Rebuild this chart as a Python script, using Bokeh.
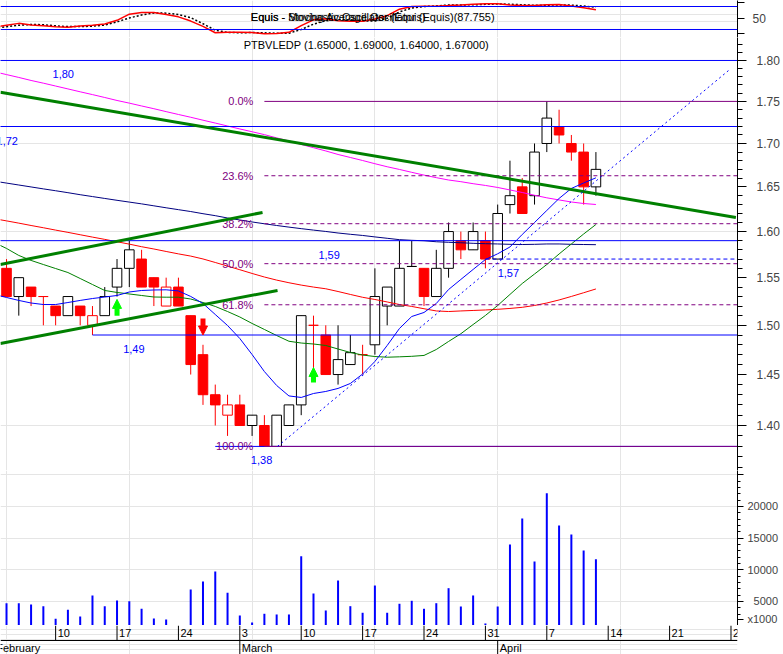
from bokeh.plotting import figure
from bokeh.layouts import column
from bokeh.models import (Range1d, FixedTicker, LinearAxis, LogAxis, LogScale, CustomJSTickFormatter,
                          Arrow, NormalHead, Span)
from bokeh.core.properties import value
from bokeh.embed import file_html
from bokeh.resources import INLINE

# ---------------- data ----------------
bar_idx = list(range(49))
opens = [1.56, 1.53, 1.54, 1.53, 1.52, 1.51, 1.52, 1.50, 1.51, 1.54,
         1.56, 1.57, 1.55, 1.52, 1.54, 1.51, 1.47, 1.43, 1.41, 1.42,
         1.40, 1.40, 1.38, 1.40, 1.42, 1.50, 1.49, 1.45, 1.46, 1.47,
         1.48, 1.52, 1.52, 1.562, 1.56, 1.53, 1.56, 1.59, 1.58, 1.59,
         1.57, 1.63, 1.65, 1.64, 1.70, 1.72, 1.70, 1.69, 1.65]
highs = [1.57, 1.55, 1.54, 1.53, 1.52, 1.53, 1.52, 1.52, 1.54, 1.57,
         1.59, 1.58, 1.55, 1.55, 1.55, 1.51, 1.48, 1.44, 1.43, 1.43,
         1.41, 1.41, 1.41, 1.42, 1.51, 1.51, 1.50, 1.50, 1.49, 1.48,
         1.56, 1.54, 1.59, 1.59, 1.56, 1.58, 1.61, 1.60, 1.61, 1.60,
         1.63, 1.68, 1.66, 1.70, 1.75, 1.74, 1.71, 1.70, 1.69]
lows = [1.53, 1.51, 1.52, 1.50, 1.50, 1.51, 1.50, 1.49, 1.51, 1.53,
        1.54, 1.54, 1.52, 1.52, 1.52, 1.45, 1.42, 1.40, 1.39, 1.40,
        1.39, 1.38, 1.38, 1.40, 1.41, 1.45, 1.45, 1.44, 1.46, 1.45,
        1.47, 1.50, 1.52, 1.562, 1.52, 1.53, 1.55, 1.57, 1.58, 1.56,
        1.57, 1.62, 1.62, 1.63, 1.69, 1.70, 1.68, 1.63, 1.64]
closes = [1.53, 1.55, 1.53, 1.53, 1.51, 1.53, 1.51, 1.51, 1.53, 1.56,
          1.58, 1.54, 1.54, 1.54, 1.52, 1.46, 1.43, 1.42, 1.42, 1.40,
          1.41, 1.38, 1.41, 1.42, 1.51, 1.50, 1.45, 1.465, 1.472, 1.47,
          1.53, 1.54, 1.56, 1.562, 1.53, 1.56, 1.60, 1.58, 1.60, 1.57,
          1.62, 1.64, 1.62, 1.69, 1.73, 1.71, 1.69, 1.65, 1.67]
volume = [4730, 4730, 4530, 4260, 2270, 3690, 2630, 5950, 4260, 5160,
          5050, 3850, 2320, 2160, 0, 6890, 8150, 9730, 6370, 2790,
          1690, 3060, 2950, 2950, 12140, 6260, 3580, 8310, 4260, 3220,
          7520, 3220, 4640, 5110, 3850, 4730, 7100, 4210, 5950, 1530,
          4210, 14000, 18090, 11310, 22080, 16990, 15570, 13040, 11670]

ma_idx = list(range(-1, 49))
ma_magenta = [1.7861, 1.7826, 1.7791, 1.7754, 1.7721, 1.7686, 1.7651, 1.7616, 1.7582, 1.7547,
              1.7511, 1.7479, 1.7445, 1.7412, 1.7377, 1.7343, 1.7310, 1.7275, 1.7241, 1.7206,
              1.7171, 1.7138, 1.7104, 1.7066, 1.7030, 1.6989, 1.6951, 1.6913, 1.6872, 1.6837,
              1.6802, 1.6765, 1.6730, 1.6699, 1.6666, 1.6634, 1.6605, 1.6578, 1.6559, 1.6536,
              1.6516, 1.6493, 1.6465, 1.6436, 1.6405, 1.6376, 1.6352, 1.6329, 1.6312, 1.6301]
ma_navy = [1.6565, 1.6543, 1.6521, 1.6499, 1.6477, 1.6456, 1.6434, 1.6411, 1.6390, 1.6369,
           1.6348, 1.6328, 1.6308, 1.6286, 1.6264, 1.6243, 1.6222, 1.6198, 1.6176, 1.6150,
           1.6128, 1.6106, 1.6086, 1.6067, 1.6049, 1.6032, 1.6016, 1.6001, 1.5984, 1.5970,
           1.5957, 1.5941, 1.5926, 1.5911, 1.5904, 1.5899, 1.5888, 1.5882, 1.5877, 1.5871,
           1.5867, 1.5864, 1.5860, 1.5858, 1.5860, 1.5864, 1.5864, 1.5860, 1.5858, 1.5856]
ma_red = [1.6142, 1.6118, 1.6093, 1.6067, 1.6042, 1.6016, 1.5991, 1.5965, 1.5939, 1.5914,
          1.5888, 1.5862, 1.5834, 1.5809, 1.5782, 1.5756, 1.5732, 1.5701, 1.5663, 1.5624,
          1.5585, 1.5545, 1.5507, 1.5474, 1.5446, 1.5421, 1.5400, 1.5382, 1.5353, 1.5322,
          1.5292, 1.5269, 1.5243, 1.5216, 1.5196, 1.5172, 1.5149, 1.5143, 1.5149, 1.5154,
          1.5159, 1.5166, 1.5175, 1.5187, 1.5206, 1.5232, 1.5264, 1.5301, 1.5340, 1.5380]
ma_green = [1.5880, 1.5815, 1.5739, 1.5685, 1.5641, 1.5598, 1.5555, 1.5491, 1.5427, 1.5364,
            1.5343, 1.5327, 1.5311, 1.5295, 1.5293, 1.5293, 1.5274, 1.5237, 1.5196, 1.5143,
            1.5086, 1.5019, 1.4957, 1.4895, 1.4836, 1.4818, 1.4808, 1.4793, 1.4757, 1.4722,
            1.4696, 1.4681, 1.4674, 1.4678, 1.4683, 1.4692, 1.4752, 1.4834, 1.4913, 1.5008,
            1.5102, 1.5206, 1.5322, 1.5438, 1.5539, 1.5641, 1.5755, 1.5864, 1.5973, 1.6078]
ma_blue = [1.5322, 1.5290, 1.5259, 1.5232, 1.5216, 1.5216, 1.5237, 1.5259, 1.5279, 1.5295,
           1.5311, 1.5348, 1.5364, 1.5369, 1.5371, 1.5359, 1.5301, 1.5227, 1.5112, 1.4998,
           1.4864, 1.4701, 1.4530, 1.4391, 1.4288, 1.4273, 1.4312, 1.4332, 1.4362, 1.4411,
           1.4505, 1.4631, 1.4793, 1.4967, 1.5091, 1.5133, 1.5227, 1.5374, 1.5481, 1.5588,
           1.5695, 1.5757, 1.5831, 1.5968, 1.6100, 1.6234, 1.6369, 1.6482, 1.6544, 1.6603]

stoch_k = [26, 31, 36, 32, 29.5, 27, 26, 29, 31, 34.5,
           44, 60, 64.5, 64.5, 59, 53, 42, 28, 11.5, 12.5,
           13, 12, 9, 9.8, 12.5, 30, 45.3, 48, 43, 41.6,
           41.6, 47.5, 56, 73, 80, 80.8, 81, 82.4, 84, 85.8,
           87, 87, 84, 82.6, 82.6, 84.6, 85, 81.5, 77, 71.5]
stoch_d = [24, 27, 31, 33, 32.5, 29.5, 27.5, 27.5, 28.7, 31.5,
           40, 50, 58, 63, 62.7, 59, 51, 35, 18, 12.5,
           11.4, 12, 11.3, 10.3, 10.4, 20, 34, 43, 45.4, 45,
           42.5, 42, 49, 66, 76, 80, 81.5, 84, 84, 84.5,
           85.6, 86.6, 86, 84.5, 83.1, 83.3, 84.1, 83.7, 81.2, 78]
osc_bands = [80, 20]
osc_ticks = [10, 50, 90]

# support / resistance levels
level_prices = [1.80, 1.72, 1.59, 1.49, 1.38, 1.57]
level_start = [-1, -1, -1, 7, 17, 39]
level_dashed = [False, False, False, False, False, True]
level_label_idx = [3.75, -0.81, 25.4, 9.5, 19.9, 40.0]

# fibonacci retracement
fib_ratios = [0.0, 0.236, 0.382, 0.5, 0.618, 1.0]

# trend lines (index, price) anchors
trend_x0 = [-0.5, -0.5, -0.5]
trend_y0 = [1.7611, 1.5641, 1.4813]
trend_x1 = [59.4, 20.85, 22.07]
trend_y1 = [1.6156, 1.6212, 1.5364]
dash_trend_x = [22.07, 58.8]
dash_trend_y = [1.38, 1.7876]

# signals
buy_idx = [9, 25]
buy_tail = [1.510, 1.442]
buy_tip = [1.527, 1.457]
sell_idx = [16]
sell_tail = [1.507]
sell_tip = [1.490]

price_ticks = [1.35, 1.40, 1.45, 1.50, 1.55, 1.60, 1.65, 1.70, 1.75, 1.80]
vol_ticks = [2160, 5000, 10000, 15000, 20000, 25000]
day_tick_idx = [4, 9, 14, 19, 24, 29, 34, 39, 44, 49, 54, 59]
day_tick_labels = ["10", "17", "24", "3", "10", "17", "24", "31", "7", "14", "21", "28"]
month_start_idx = [-1, 19, 40]
month_labels = ["February", "March", "April"]

osc_title_a = "Equis - Stochastic Oscillator (Equis)"
osc_title_b = "Equis - Moving Average Oscillator (Equis)(87.755)"

# ---------------- styling ----------------
FONT = "Liberation Sans"
W, RB = 783, 46
XR = Range1d(-0.49, 59.53)
BLUE, NAVY, MAG, RED, GREEN, PURPLE = "#0000FF", "#000080", "#FF00FF", "#FF0000", "#008000", "#800080"


def base_fig(height, y_range, **kw):
    return figure(width=W, height=height, x_range=XR, y_range=y_range,
                  output_backend="svg", toolbar_location=None,
                  x_axis_location=None, y_axis_location=None,
                  min_border_left=0, min_border_right=RB, min_border_top=0, min_border_bottom=0,
                  outline_line_color=None, background_fill_color="white",
                  border_fill_color="white", **kw)


def line_axis():
    return LinearAxis(ticker=FixedTicker(ticks=[]), major_tick_out=0, major_tick_in=0,
                      minor_tick_out=0, minor_tick_in=0, major_label_standoff=0,
                      major_label_text_font_size="0px", axis_line_color="black")


# ---------------- oscillator ----------------
osc = base_fig(37, Range1d(-0.9, 95.7))
for b in osc_bands:
    osc.add_layout(Span(location=b, dimension="width", line_color=BLUE, line_width=1))
osc.line(ma_idx, stoch_d, color="black", line_width=1.5, line_dash="2 2")
osc.line(ma_idx, stoch_k, color=RED, line_width=1.5)
for t in (osc_title_a, osc_title_b):
    osc.text(x=[19.9], y=[52], text=[t], text_font=value(FONT), text_font_size="11px",
             text_align="left", text_baseline="middle", text_color="black")
osc.add_layout(line_axis(), "below")
oa = LinearAxis(ticker=FixedTicker(ticks=osc_ticks),
                formatter=CustomJSTickFormatter(code="return tick == 50 ? '50' : '';"),
                major_tick_out=7, major_tick_in=0, minor_tick_out=0, minor_tick_in=0,
                major_label_standoff=8, major_label_text_font=FONT,
                major_label_text_font_size="12px")
osc.add_layout(oa, "right")

# ---------------- price ----------------
pf = base_fig(433, Range1d(1.3573, 1.8287), y_axis_type="log")
pf.y_scale = LogScale()

prev = [opens[0]] + closes[:-1]
cols = ["black" if c > pc else RED for c, pc in zip(closes, prev)]
fills = ["white" if c > o else col for o, c, col in zip(opens, closes, cols)]
tops = [max(o, c) for o, c in zip(opens, closes)]
bots = [min(o, c) for o, c in zip(opens, closes)]

pf.segment(x0=bar_idx, y0=lows, x1=bar_idx, y1=highs, color=cols, line_width=1)
pf.vbar(x=bar_idx, top=tops, bottom=bots, width=0.78, fill_color=fills, line_color=cols,
        line_width=1)

# moving averages
pf.line(ma_idx, ma_magenta, color=MAG, line_width=1)
pf.line(ma_idx, ma_navy, color=NAVY, line_width=1)
pf.line(ma_idx, ma_red, color=RED, line_width=1)
pf.line(ma_idx, ma_green, color=GREEN, line_width=1)
pf.line(ma_idx, ma_blue, color=BLUE, line_width=1)

# levels
for lv, st0, dsh in zip(level_prices, level_start, level_dashed):
    pf.segment(x0=[st0], y0=[lv], x1=[61], y1=[lv], color=BLUE, line_width=1,
               line_dash="4 3" if dsh else "solid")
pf.text(x=level_label_idx, y=level_prices,
        text=[f"{lv:.2f}".replace(".", ",") for lv in level_prices],
        text_font=value(FONT), text_font_size="11px", text_color=BLUE,
        text_align="left", text_baseline="middle", y_offset=14)

# fibonacci
fib_hi, fib_lo = max(highs), min(lows)
fib_start = lows.index(fib_lo)
fib_levels = [fib_hi - r * (fib_hi - fib_lo) for r in fib_ratios]
for r, fl in zip(fib_ratios, fib_levels):
    solid = r in (0.0, 1.0)
    pf.segment(x0=[fib_start], y0=[fl], x1=[61], y1=[fl], color=PURPLE, line_width=1,
               line_dash="solid" if solid else "4 3")
pf.text(x=[fib_start] * len(fib_levels), y=fib_levels,
        text=[f"{r * 100:.1f}%" for r in fib_ratios], text_font=value(FONT),
        text_font_size="11px", text_color=PURPLE, text_align="right",
        text_baseline="middle", x_offset=-11)

# trend lines
pf.segment(x0=trend_x0, y0=trend_y0, x1=trend_x1, y1=trend_y1, color=GREEN, line_width=3)
pf.line(dash_trend_x, dash_trend_y, color=BLUE, line_width=1, line_dash="2 3")

# signals
for xi, t0, t1 in zip(buy_idx, buy_tail, buy_tip):
    pf.add_layout(Arrow(end=NormalHead(size=9, fill_color="#00FF00", line_color="#00FF00"),
                        x_start=xi, y_start=t0, x_end=xi, y_end=t1,
                        line_color="#00FF00", line_width=5))
for xi, t0, t1 in zip(sell_idx, sell_tail, sell_tip):
    pf.add_layout(Arrow(end=NormalHead(size=9, fill_color=RED, line_color=RED),
                        x_start=xi, y_start=t0, x_end=xi, y_end=t1,
                        line_color=RED, line_width=5))

title = (f"PTBVLEDP ({opens[-1]:.5f}, {highs[-1]:.5f}, {lows[-1]:.5f}, "
         f"{closes[-1]:.5f})")
pf.text(x=[29.3], y=[1.8187], text=[title], text_font=value(FONT), text_font_size="11px",
        text_align="center", text_baseline="middle", text_color="black")

minor_price = [round(1.35 + 0.01 * k, 2) for k in range(48)]
pa = LogAxis(ticker=FixedTicker(ticks=price_ticks, minor_ticks=minor_price),
             formatter=CustomJSTickFormatter(code="return tick < 1.375 ? '' : tick.toFixed(2);"),
             major_tick_out=9, major_tick_in=0, minor_tick_out=5, minor_tick_in=0,
             major_label_standoff=10, major_label_text_font=FONT,
             major_label_text_font_size="12px")
pf.add_layout(pa, "right")

# ---------------- volume ----------------
vf = base_fig(155, Range1d(1210, 25677))
vf.segment(x0=bar_idx, y0=[0] * len(volume), x1=bar_idx, y1=volume, color=BLUE, line_width=2)
va = LinearAxis(ticker=FixedTicker(ticks=vol_ticks, minor_ticks=list(range(3000, 26000, 1000))),
                formatter=CustomJSTickFormatter(
                    code="if (tick > 22000) return ''; if (tick < 3000) return 'x1000'; "
                         "return (tick < 10000 ? '\\u2007' : '') + tick.toFixed(0);"),
                major_tick_out=6, major_tick_in=0, minor_tick_out=3, minor_tick_in=0,
                major_label_standoff=4, major_label_text_font=FONT,
                major_label_text_font_size="11px")
vf.add_layout(va, "right")
vf.add_layout(line_axis(), "below")

# ---------------- date strip ----------------
st = base_fig(29, Range1d(0, 29))
st.segment(x0=day_tick_idx, y0=[29] * len(day_tick_idx), x1=day_tick_idx,
           y1=[14] * len(day_tick_idx), color="black", line_width=1)
st.text(x=day_tick_idx, y=[21.5] * len(day_tick_idx), text=day_tick_labels,
        text_font=value(FONT), text_font_size="11px", text_align="left",
        text_baseline="middle", x_offset=2, text_color="black")
st.add_layout(Span(location=14, dimension="width", line_color="black", line_width=1))
st.segment(x0=month_start_idx, y0=[14] * 3, x1=month_start_idx, y1=[0] * 3,
           color="black", line_width=1)
st.text(x=month_start_idx, y=[7] * 3, text=month_labels, text_font=value(FONT),
        text_font_size="11px", text_align="left", text_baseline="middle", x_offset=2,
        text_color="black")

layout = column(osc, pf, vf, st, spacing=0)
open("out.html", "w").write(file_html(layout, INLINE))
